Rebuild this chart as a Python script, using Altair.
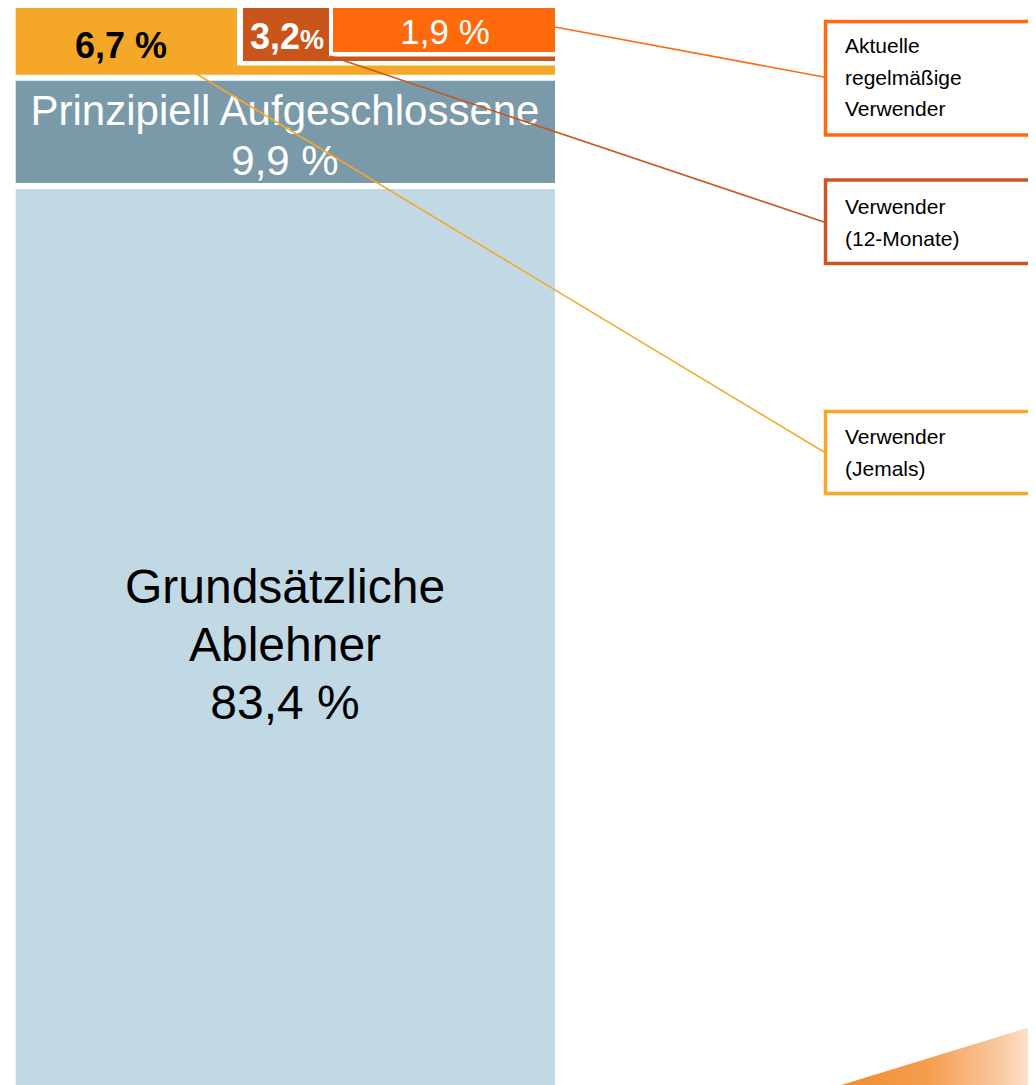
import altair as alt
import pandas as pd

# ---------------- data ----------------
segment_names = ["Verwender (Jemals)", "Prinzipiell Aufgeschlossene", "Grundsätzliche Ablehner"]
segment_values = [6.7, 9.9, 83.4]
user_names = ["Verwender (Jemals)", "Verwender (12-Monate)", "Aktuelle regelmäßige Verwender"]
user_values = [6.7, 3.2, 1.9]
callout_texts = [
    ["Aktuelle", "regelmäßige", "Verwender"],
    ["Verwender", "(12-Monate)"],
    ["Verwender", "(Jemals)"],
]

def fmt(v, space=True):
    s = f"{v:.1f}".replace(".", ",")
    return s + (" %" if space else "")

# ---------------- layout / style ----------------
W, H = 1020, 1077
S = 10.93          # pixels per percent point
Y0 = -3.5          # pixel position of 0 %
FONT = "Liberation Sans"

seg_colors = ["#F5A827", "#7A9AAA", "#C0D9E5"]
dark_col = "#C9551A"
bright_col = "#FF6A0D"
box_cols = ["#FF6A10", "#C8561D", "#F5A82A"]


def py(page_y):
    """page pixel -> percent units of the y scale"""
    return (page_y - 8 - Y0) / S


def px(page_x):
    return page_x - 8


xs = alt.Scale(domain=[0, W], range=[0, W])
ys = alt.Scale(domain=[0, 100], range=[Y0, Y0 + 100 * S])

BAR_L, BAR_R = px(15.7), px(555)

# main stacked bar
cum = 0
rows = []
for n, v, c in zip(segment_names, segment_values, seg_colors):
    rows.append({"name": n, "y0": cum, "y1": cum + v, "x0": BAR_L, "x1": BAR_R, "c": c})
    cum += v
main_df = pd.DataFrame(rows)

main = alt.Chart(main_df).mark_rect(yOffset=3, y2Offset=-3, clip=True).encode(
    x=alt.X("x0:Q", scale=xs, axis=None),
    x2="x1:Q",
    y=alt.Y("y0:Q", scale=ys, axis=None),
    y2="y1:Q",
    color=alt.Color("c:N", scale=None),
)

# nested user boxes (inside "Jemals" bar)
sub_df = pd.DataFrame([
    {"x0": px(237), "x1": BAR_R, "y0": py(0), "y1": py(65.5), "c": "#FFFFFF"},
    {"x0": px(243), "x1": BAR_R, "y0": py(7.5), "y1": py(61), "c": dark_col},
    {"x0": px(329), "x1": BAR_R, "y0": py(0), "y1": py(56.5), "c": "#FFFFFF"},
    {"x0": px(333), "x1": BAR_R, "y0": py(7.5), "y1": py(52), "c": bright_col},
])
sub = alt.Chart(sub_df).mark_rect(clip=True).encode(
    x=alt.X("x0:Q", scale=xs, axis=None), x2="x1:Q",
    y=alt.Y("y0:Q", scale=ys, axis=None), y2="y1:Q",
    color=alt.Color("c:N", scale=None),
)

# labels
def text_layer(rows, **mk):
    df = pd.DataFrame(rows)
    return alt.Chart(df).mark_text(font=FONT, **mk).encode(
        x=alt.X("x:Q", scale=xs, axis=None),
        y=alt.Y("y:Q", scale=ys, axis=None),
        text="t:N",
    )

lab_jemals = text_layer([{"x": px(121), "y": py(58), "t": fmt(user_values[0])}],
                        fontSize=36, fontWeight="bold", color="black", baseline="alphabetic", align="center")
lab_12a = text_layer([{"x": px(300), "y": py(49), "t": fmt(user_values[1], space=False)}],
                     fontSize=36, fontWeight="bold", color="white", baseline="alphabetic", align="right")
lab_12b = text_layer([{"x": px(300), "y": py(49), "t": "%"}],
                     fontSize=27, fontWeight="bold", color="white", baseline="alphabetic", align="left")
lab_akt = text_layer([{"x": px(445), "y": py(44), "t": fmt(user_values[2])}],
                     fontSize=35, color="white", baseline="alphabetic", align="center")
lab_auf = text_layer([
    {"x": px(285), "y": py(125), "t": segment_names[1]},
    {"x": px(285), "y": py(175), "t": fmt(segment_values[1])},
], fontSize=42, color="white", baseline="alphabetic", align="center")
lab_abl = text_layer([
    {"x": px(285), "y": py(603), "t": "Grundsätzliche"},
    {"x": px(285), "y": py(661), "t": "Ablehner"},
    {"x": px(285), "y": py(719), "t": fmt(segment_values[2])},
], fontSize=48, color="black", baseline="alphabetic", align="center")

# callout boxes
box_tops = [21.5, 180, 411.5]
box_bottoms = [135, 263.5, 493.5]
box_df = pd.DataFrame([
    {"x0": px(825.5), "x1": px(1060), "y0": py(t), "y1": py(b), "c": c}
    for t, b, c in zip(box_tops, box_bottoms, box_cols)
])
boxes = alt.Chart(box_df).mark_rect(fill="white", strokeWidth=3.5, clip=True).encode(
    x=alt.X("x0:Q", scale=xs, axis=None), x2="x1:Q",
    y=alt.Y("y0:Q", scale=ys, axis=None), y2="y1:Q",
    stroke=alt.Color("c:N", scale=None),
)

ct_rows = []
first_lines = [47, 208, 438]
for i, lines in enumerate(callout_texts):
    for j, t in enumerate(lines):
        ct_rows.append({"x": px(845), "y": py(first_lines[i] + 31.5 * j), "t": t})
callout_lab = text_layer(ct_rows, fontSize=21, color="black", baseline="middle", align="left")

# leader lines
lead_df = pd.DataFrame([
    {"x0": px(555), "y0": py(27), "x1": px(824), "y1": py(77), "c": box_cols[0]},
    {"x0": px(330), "y0": py(56), "x1": px(824), "y1": py(222), "c": box_cols[1]},
    {"x0": px(195), "y0": py(73), "x1": px(824), "y1": py(452), "c": box_cols[2]},
])
leads = alt.Chart(lead_df).mark_rule(strokeWidth=1.6).encode(
    x=alt.X("x0:Q", scale=xs, axis=None), x2="x1:Q",
    y=alt.Y("y0:Q", scale=ys, axis=None), y2="y1:Q",
    color=alt.Color("c:N", scale=None),
)

# decorative swoosh bottom right
sw_df = pd.DataFrame({"x": [px(838), px(1040)], "y": [py(1086), py(1024)], "y2": [py(1120), py(1120)]})
swoosh = alt.Chart(sw_df).mark_area(
    clip=True,
    color=alt.Gradient(
        gradient="linear", x1=0, x2=1, y1=0, y2=0,
        stops=[
            alt.GradientStop(color="#F28C2A", offset=0),
            alt.GradientStop(color="#F49E50", offset=0.45),
            alt.GradientStop(color="#F9C9A0", offset=0.8),
            alt.GradientStop(color="#FDEBDD", offset=1),
        ],
    ),
).encode(
    x=alt.X("x:Q", scale=xs, axis=None),
    y=alt.Y("y:Q", scale=ys, axis=None),
    y2="y2:Q",
)

chart = alt.layer(
    main, sub, lab_jemals, lab_12a, lab_12b, lab_akt, lab_auf, lab_abl,
    boxes, callout_lab, leads, swoosh,
).properties(width=W, height=H, padding=0, background="white").configure_view(stroke=None)

chart.save("out.html", embed_options={"renderer": "svg", "actions": False})
